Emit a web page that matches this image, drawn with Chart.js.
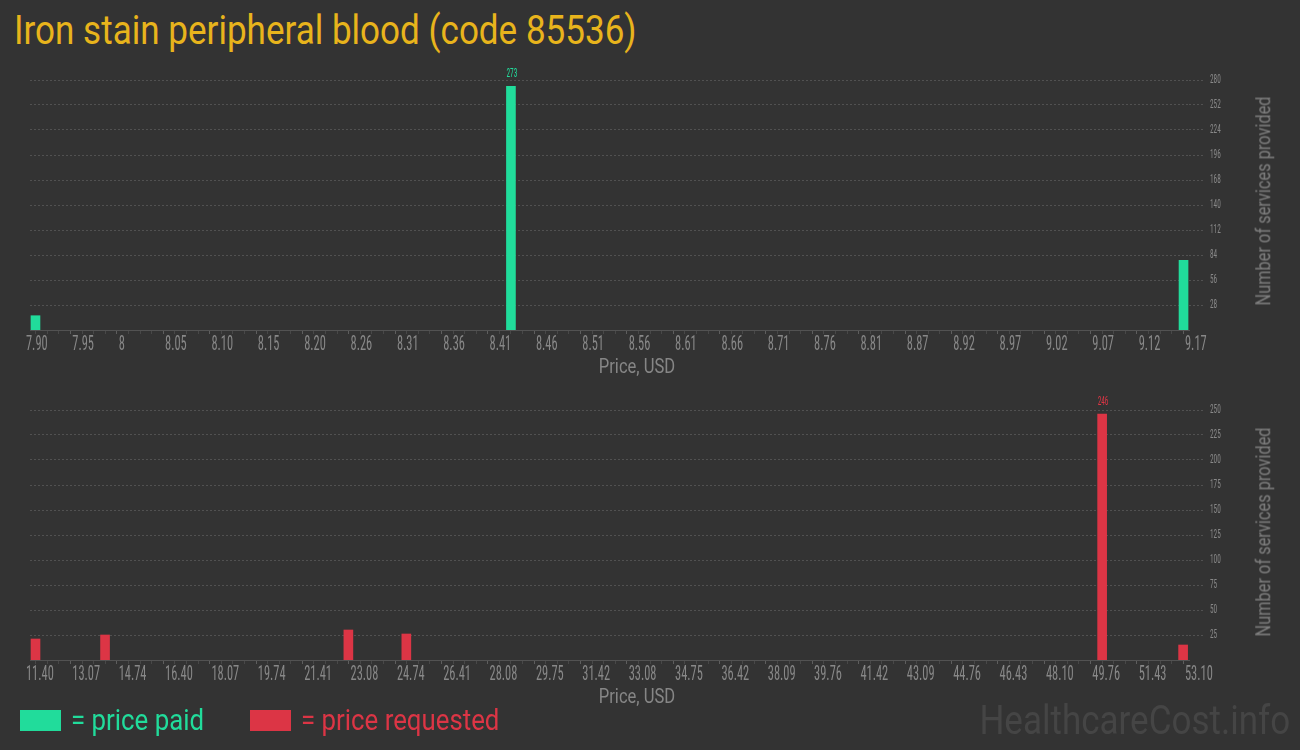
<!DOCTYPE html>
<html><head><meta charset="utf-8">
<script src="https://cdn.jsdelivr.net/npm/chart.js@4.4.1/dist/chart.umd.min.js"></script>
<style>
html,body{margin:0;padding:0;background:#333333;}
body{width:1300px;height:750px;overflow:hidden;position:relative;font-family:Roboto,sans-serif;}
.t{position:absolute;white-space:nowrap;line-height:1;}
#title{left:14px;top:10.5px;font-size:40px;color:#e8b41c;transform:scaleX(0.876);transform-origin:0 0;}
.box{position:absolute;left:0;width:1300px;height:330px;}
.xt{font-size:19.5px;color:#868686;transform:translate(-50%,-50%) scaleX(0.85);}
.yt{font-size:19.5px;color:#7e7e7e;transform:translate(-50%,-50%) rotate(-90deg) scaleX(0.84);}
.sw{position:absolute;width:41px;height:21px;top:710px;}
.lg{font-size:30px;top:705px;transform:scaleX(0.86);transform-origin:0 0;}
#wm{right:10px;top:700.5px;font-size:40px;color:#454545;transform:scaleX(0.875);transform-origin:100% 0;}
</style></head>
<body>
<div id="title" class="t">Iron stain peripheral blood (code 85536)</div>

<div class="box" style="top:60px"><canvas id="paid"></canvas></div>
<div class="t xt" style="left:637px;top:367px">Price, USD</div>
<div class="t yt" style="left:1264px;top:201px">Number of services provided</div>

<div class="box" style="top:390px"><canvas id="req"></canvas></div>
<div class="t xt" style="left:637px;top:697px">Price, USD</div>
<div class="t yt" style="left:1264px;top:532px">Number of services provided</div>

<div class="sw" style="left:20px;background:#21dc9b"></div>
<div class="t lg" style="left:70.5px;color:#21dc9b">= price paid</div>
<div class="sw" style="left:250px;background:#dc3545"></div>
<div class="t lg" style="left:300.5px;color:#dc3545">= price requested</div>
<div id="wm" class="t">HealthcareCost.info</div>

<script>
// ---- data ----
const paidTickLabels = ['7.90','7.95','8','8.05','8.10','8.15','8.20','8.26','8.31','8.36','8.41','8.46','8.51','8.56','8.61','8.66','8.71','8.76','8.81','8.87','8.92','8.97','9.02','9.07','9.12','9.17'];
const paidPrices = [7.906, 8.427, 9.164];
const paidCounts = [16, 273, 78];
const paidYTicks = [28, 56, 84, 112, 140, 168, 196, 224, 252, 280];

const reqTickLabels = ['11.40','13.07','14.74','16.40','18.07','19.74','21.41','23.08','24.74','26.41','28.08','29.75','31.42','33.08','34.75','36.42','38.09','39.76','41.42','43.09','44.76','46.43','48.10','49.76','51.43','53.10'];
const reqPrices = [11.598, 14.10, 22.855, 24.94, 49.975, 52.888];
const reqCounts = [21, 25, 30, 26, 246, 15];
const reqYTicks = [25, 50, 75, 100, 125, 150, 175, 200, 225, 250];

const paidColor = '#21dc9b';
const reqColor = '#dc3545';
const CONDENSED = "'Roboto Condensed', Roboto";
const MINOR = 4;

// narrow tick lettering, like the reference's condensed face
const condensePlugin = {
  id: 'condense',
  beforeInit(chart) {
    const ctx = chart.ctx;
    const orig = ctx.fillText;
    ctx.fillText = function (text, x, y, maxWidth) {
      if (this.font.indexOf('Condensed') >= 0) {
        const m = this.font.match(/([\d.]+)px/);
        const size = m ? parseFloat(m[1]) : 12;
        const sx = size >= 16 ? 0.62 : 0.56;
        this.save();
        this.translate(x, y);
        this.scale(sx, 1);
        orig.call(this, text, 0, 0);
        this.restore();
      } else {
        orig.call(this, text, x, y, maxWidth);
      }
    };
  }
};

const peakLabelPlugin = {
  id: 'peakLabel',
  afterDatasetsDraw(chart) {
    const ds = chart.data.datasets[0];
    const meta = chart.getDatasetMeta(0);
    let best = 0;
    ds.data.forEach((d, i) => { if (d.y > ds.data[best].y) best = i; });
    const el = meta.data[best];
    const ctx = chart.ctx;
    ctx.save();
    ctx.font = "13px " + CONDENSED;
    ctx.fillStyle = ds.backgroundColor;
    ctx.textAlign = 'left';
    ctx.textBaseline = 'middle';
    ctx.fillText(String(ds.data[best].y), el.x - el.width / 2, el.y - 12.5);
    ctx.restore();
  }
};

function makeChart(id, tickLabels, prices, counts, yTicks, color) {
  const xMin = parseFloat(tickLabels[0]);
  const xMax = parseFloat(tickLabels[tickLabels.length - 1]);
  const nSteps = (tickLabels.length - 1) * MINOR;
  return new Chart(document.getElementById(id), {
    type: 'bar',
    data: {
      datasets: [{
        data: prices.map((p, i) => ({ x: p, y: counts[i] })),
        backgroundColor: color,
        borderWidth: 0,
        barThickness: 9
      }]
    },
    options: {
      responsive: true,
      maintainAspectRatio: false,
      animation: false,
      events: [],
      layout: { padding: { left: 30, top: 20, right: 0, bottom: 0 } },
      plugins: { legend: { display: false }, tooltip: { enabled: false } },
      scales: {
        x: {
          type: 'linear',
          min: xMin,
          max: xMax,
          offset: false,
          afterBuildTicks(scale) {
            const t = [];
            for (let i = 0; i <= nSteps; i++) t.push({ value: xMin + (xMax - xMin) * i / nSteps });
            scale.ticks = t;
          },
          afterFit(scale) { scale.height = 60; },
          grid: {
            drawOnChartArea: false,
            drawTicks: true,
            tickLength: 4,
            tickColor: (c) => (c.index % MINOR === 0 ? '#5e5e5e' : '#484848')
          },
          border: { display: true, color: '#525252', width: 1 },
          ticks: {
            autoSkip: false,
            maxRotation: 0,
            minRotation: 0,
            align: 'start',
            labelOffset: -4,
            padding: 1,
            color: '#888888',
            font: { family: CONDENSED, size: 20, lineHeight: 1 },
            callback: (v, i) => (i % MINOR === 0 ? tickLabels[i / MINOR] : '')
          }
        },
        y: {
          position: 'right',
          min: 0,
          max: yTicks[yTicks.length - 1],
          afterBuildTicks(scale) { scale.ticks = yTicks.map(v => ({ value: v })); },
          afterFit(scale) { scale.width = 111; },
          grid: {
            color: '#515151',
            lineWidth: 1,
            drawTicks: true,
            tickLength: 16,
            tickColor: '#515151',
            tickBorderDash: [2, 2]
          },
          border: { display: false, dash: [2, 2] },
          ticks: {
            padding: 5,
            color: '#888888',
            font: { family: CONDENSED, size: 13, lineHeight: 1 },
            callback: (v) => String(v)
          }
        }
      }
    },
    plugins: [condensePlugin, peakLabelPlugin]
  });
}

makeChart('paid', paidTickLabels, paidPrices, paidCounts, paidYTicks, paidColor);
makeChart('req', reqTickLabels, reqPrices, reqCounts, reqYTicks, reqColor);
</script>
</body></html>
